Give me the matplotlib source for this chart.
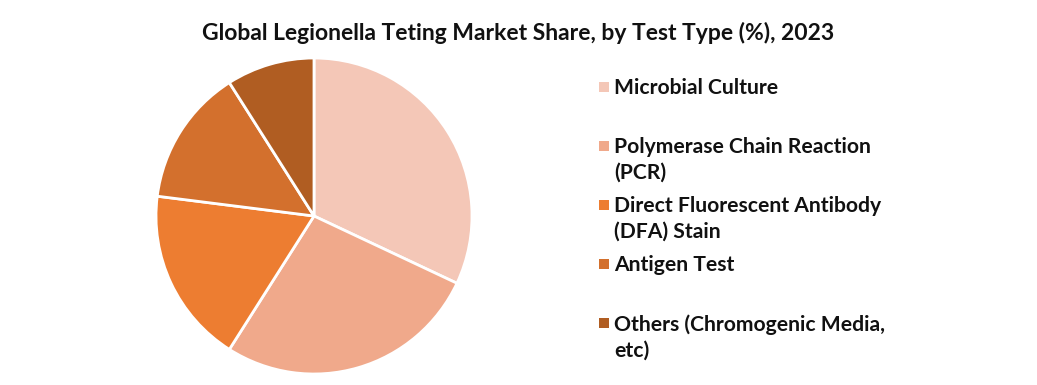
import matplotlib
matplotlib.use("Agg")
import matplotlib.pyplot as plt
from matplotlib.patches import Rectangle

categories = [
    "Microbial Culture",
    "Polymerase Chain Reaction\n(PCR)",
    "Direct Fluorescent Antibody\n(DFA) Stain",
    "Antigen Test",
    "Others (Chromogenic Media,\netc)",
]
shares = [32, 27, 18, 14, 9]
colors = ["#F4C7B7", "#F0A98B", "#ED7D31", "#D3702D", "#B05D22"]
title = "Global Legionella Teting Market Share, by Test Type (%), 2023"

W, H = 1037, 385
plt.rcParams['font.family'] = ['Lato', 'DejaVu Sans']

fig = plt.figure(figsize=(W / 100, H / 100), dpi=100)
fig.patch.set_facecolor("white")

# pie: centre ~(314, 216) px, radius ~158 px
cx, cy, r = 314, 216, 158
ax = fig.add_axes([(cx - r) / W, (H - cy - r) / H, 2 * r / W, 2 * r / H])
ax.pie(shares, colors=colors, startangle=90, counterclock=False,
       wedgeprops=dict(edgecolor="white", linewidth=2))
ax.set_xlim(-1.0, 1.0)
ax.set_ylim(-1.0, 1.0)

fig.text(0.5, 1 - 33 / H, title, ha="center", va="center",
         fontsize=16.5, fontweight="bold", color="#111111")

# legend, equal slots, first line aligned with the square
for i, (lab, col) in enumerate(zip(categories, colors)):
    y = 87 + 59 * i
    fig.patches.append(Rectangle((599 / W, (H - y - 5) / H), 10 / W, 10 / H,
                                 transform=fig.transFigure, facecolor=col,
                                 edgecolor="none"))
    fig.text(614 / W, 1 - (y - 9) / H, lab, ha="left", va="top",
             fontsize=15.2, fontweight="bold", color="#111111", linespacing=1.35)

fig.savefig("out.png", dpi=100, facecolor="white")
